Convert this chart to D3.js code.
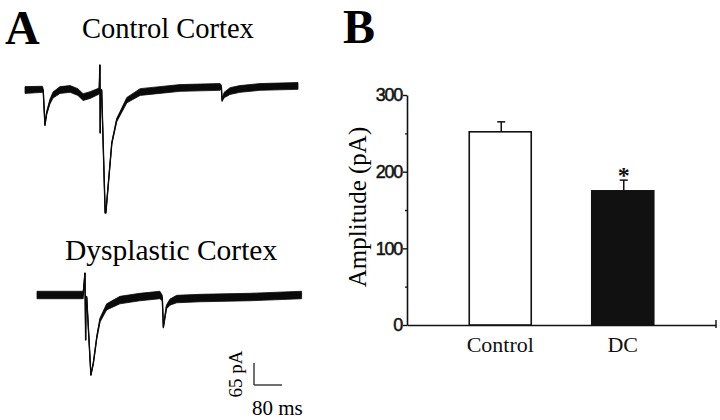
<!DOCTYPE html>
<html>
<head>
<meta charset="utf-8">
<script src="https://cdn.jsdelivr.net/npm/d3@7/dist/d3.min.js"></script>
<style>
  html, body { margin: 0; padding: 0; background: #fff; }
  svg { display: block; }
  .serif { font-family: "Liberation Serif", "Times New Roman", serif; }
  .sans { font-family: "Liberation Sans", Arial, sans-serif; }
</style>
</head>
<body>
<svg id="fig" width="720" height="420"></svg>
<script>
// ---------- DATA ----------
// Panel A traces: [time ms, current pA, noise half-width pA]
const controlTrace = [
  [0, 0, 10], [50, 2, 9], [52, 0, 3], [57, -103, 3], [62, -68, 5], [71, -35, 7],
  [80, -15, 9], [100, 0, 10], [129, 3, 10], [151, -6, 10], [166, -21, 10],
  [186, -15, 10], [212, -3, 9], [214, 74, 0], [215, -127, 0], [216, -3, 2],
  [219, 0, 2], [229, -363, 1], [231, -363, 1], [248, -157, 3], [262, -89, 5],
  [291, -30, 8], [329, -6, 10], [357, -3, 10], [443, 6, 10], [557, 9, 10],
  [561, 9, 6], [563, -30, 4], [569, -15, 8], [586, -3, 10], [614, 3, 10],
  [671, 9, 10], [780, 12, 10]
];
const dysplasticTrace = [
  [0, 0, 11], [132, 0, 11], [137, 65, 0], [139, -133, 0], [140, -6, 2],
  [142, -6, 2], [154, -236, 2], [161, -201, 3], [171, -124, 4], [180, -74, 6],
  [199, -35, 9], [237, -15, 11], [294, -6, 11], [351, 0, 11], [358, -9, 8],
  [361, -95, 3], [370, -35, 6], [380, -21, 9], [399, -12, 11], [466, -9, 11],
  [609, -6, 11], [756, 0, 11]
];
const traceTitles = ["Control Cortex", "Dysplastic Cortex"];
const scaleBarValues = { pA: 65, ms: 80 };

// Panel B bar chart
const categories = ["Control", "DC"];
const amplitudes = [252, 175];
const sems = [13, 14];
const significant = [false, true];
const majorTicks = [0, 100, 200, 300];
const minorTicks = [50, 150, 250];

// ---------- DRAW ----------
const svg = d3.select("#fig");

// Panel labels
svg.append("text").attr("class", "serif").attr("x", 5).attr("y", 44)
  .attr("font-size", 48).attr("font-weight", "bold").text("A");
svg.append("text").attr("class", "serif").attr("x", 343).attr("y", 43)
  .attr("font-size", 48).attr("font-weight", "bold").text("B");

// Trace titles
svg.append("text").attr("class", "serif").attr("x", 82).attr("y", 38)
  .attr("font-size", 28.5).text(traceTitles[0]);
svg.append("text").attr("class", "serif").attr("x", 65).attr("y", 260)
  .attr("font-size", 29.5).text(traceTitles[1]);

// Trace scales (ms -> px, pA -> px)
const xT = d3.scaleLinear().domain([0, 80]).range([0, 28]);
const yT = d3.scaleLinear().domain([0, 65]).range([0, -22]);

function drawTrace(data, ox, oy) {
  const g = svg.append("g").attr("transform", `translate(${ox},${oy})`);
  const area = d3.area()
    .x(d => xT(d[0]))
    .y0(d => yT(d[1] - d[2]))
    .y1(d => yT(d[1] + d[2]));
  const line = d3.line().x(d => xT(d[0])).y(d => yT(d[1]));
  g.append("path").datum(data).attr("d", area).attr("fill", "#0a0a0a")
    .attr("stroke", "#0a0a0a").attr("stroke-width", 0.8);
  g.append("path").datum(data).attr("d", line)
    .attr("fill", "none").attr("stroke", "#0a0a0a").attr("stroke-width", 1.4)
    .attr("stroke-linejoin", "round");
}
drawTrace(controlTrace, 25, 90);
drawTrace(dysplasticTrace, 37, 295);

// Scale bar
const sb = svg.append("g").attr("transform", "translate(254,385)");
sb.append("line").attr("x1", 0).attr("y1", 0).attr("x2", 0).attr("y2", yT(scaleBarValues.pA))
  .attr("stroke", "#111").attr("stroke-width", 1.2);
sb.append("line").attr("x1", 0).attr("y1", 0).attr("x2", xT(scaleBarValues.ms)).attr("y2", 0)
  .attr("stroke", "#111").attr("stroke-width", 1.2);
sb.append("text").attr("class", "serif").attr("font-size", 19)
  .attr("text-anchor", "middle")
  .attr("transform", `translate(-12,${yT(scaleBarValues.pA) / 2}) rotate(-90)`)
  .text(scaleBarValues.pA + " pA");
sb.append("text").attr("class", "serif").attr("font-size", 21)
  .attr("x", -2).attr("y", 30).text(scaleBarValues.ms + " ms");

// Bar chart
const y = d3.scaleLinear().domain([0, 300]).range([325, 95]);
const x = d3.scaleBand().domain(categories).range([407, 716])
  .paddingInner(0.494).paddingOuter(0.508);

// y axis major
const gy = svg.append("g").attr("transform", "translate(407,0)")
  .call(d3.axisLeft(y).tickValues(majorTicks).tickSize(4).tickSizeOuter(0).tickPadding(1));
gy.select(".domain").attr("stroke", "#111").attr("stroke-width", 1.6);
gy.selectAll(".tick line").attr("stroke", "#111").attr("stroke-width", 1.4);
gy.selectAll(".tick text").attr("class", "sans").attr("font-size", 18)
  .attr("letter-spacing", "-1.3").attr("fill", "#111")
  .attr("stroke", "#111").attr("stroke-width", 0.5);
// y axis minor
const gym = svg.append("g").attr("transform", "translate(407,0)")
  .call(d3.axisLeft(y).tickValues(minorTicks).tickSize(2).tickFormat(""));
gym.select(".domain").remove();
gym.selectAll(".tick line").attr("stroke", "#111").attr("stroke-width", 1.4);

// x axis
const gx = svg.append("g").attr("transform", `translate(0,${y(0)})`)
  .call(d3.axisBottom(x).tickSize(0).tickSizeOuter(0).tickPadding(11));
gx.select(".domain").attr("stroke", "#111").attr("stroke-width", 1.6);
gx.selectAll(".tick text").attr("class", "serif").attr("font-size", 22).attr("fill", "#111");
svg.append("line").attr("x1", x.range()[1]).attr("x2", x.range()[1])
  .attr("y1", y(0) - 5).attr("y2", y(0) + 3).attr("stroke", "#111").attr("stroke-width", 1.4);

// Y label
svg.append("text").attr("class", "serif").attr("font-size", 25)
  .attr("text-anchor", "middle")
  .attr("transform", `translate(366,${(y(0) + y(300)) / 2 - 3}) rotate(-90)`)
  .text("Amplitude (pA)");

// Bars
const bars = categories.map((c, i) => ({ c, v: amplitudes[i], e: sems[i], s: significant[i], i }));
svg.selectAll("rect.bar").data(bars).join("rect").attr("class", "bar")
  .attr("x", d => x(d.c)).attr("width", x.bandwidth())
  .attr("y", d => y(d.v)).attr("height", d => y(0) - y(d.v))
  .attr("fill", d => d.i === 0 ? "#fff" : "#111")
  .attr("stroke", "#111").attr("stroke-width", 1.6);

// Error bars (upper only)
const cx = d => x(d.c) + x.bandwidth() / 2 + 1;
svg.selectAll("line.err").data(bars).join("line").attr("class", "err")
  .attr("x1", cx).attr("x2", cx)
  .attr("y1", d => y(d.v)).attr("y2", d => y(d.v + d.e))
  .attr("stroke", "#111").attr("stroke-width", 1.5);
svg.selectAll("line.cap").data(bars).join("line").attr("class", "cap")
  .attr("x1", d => cx(d) - 4).attr("x2", d => cx(d) + 4)
  .attr("y1", d => y(d.v + d.e)).attr("y2", d => y(d.v + d.e))
  .attr("stroke", "#111").attr("stroke-width", 1.5);

// Significance star
svg.selectAll("text.star").data(bars.filter(d => d.s)).join("text").attr("class", "star serif")
  .attr("x", d => cx(d)).attr("y", d => y(d.v + d.e) + 3)
  .attr("text-anchor", "middle").attr("font-size", 24).attr("font-weight", "bold")
  .attr("fill", "#111").text("*");
</script>
</body>
</html>
